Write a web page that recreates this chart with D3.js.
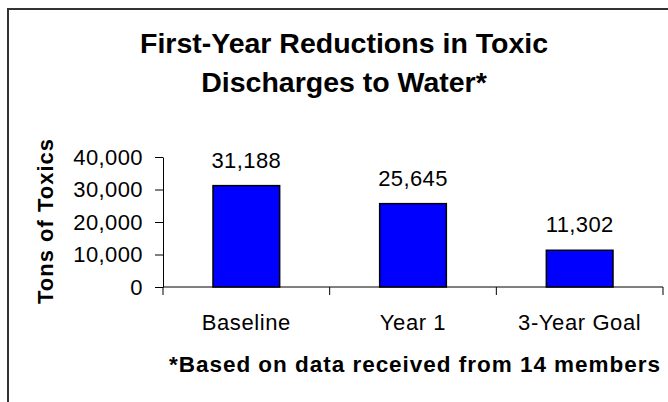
<!DOCTYPE html>
<html><head><meta charset="utf-8">
<script src="https://cdn.jsdelivr.net/npm/d3@7"></script>
<style>
html,body{margin:0;padding:0;background:#fff;}
svg{display:block;font-family:Arial,"Liberation Sans",sans-serif;}
</style></head>
<body>
<svg id="c" width="668" height="402"></svg>
<script>
const categories = ["Baseline", "Year 1", "3-Year Goal"];
const values = [31188, 25645, 11302];
const yTicks = [0, 10000, 20000, 30000, 40000];
const titleLines = ["First-Year Reductions in Toxic", "Discharges to Water*"];
const yTitle = "Tons of Toxics";
const footnote = "*Based on data received from 14 members";

const svg = d3.select("#c");
// frame (left and top edges visible)
svg.append("path").attr("d", "M8,402 L8,9 L668,9")
  .attr("fill", "none").attr("stroke", "#333").attr("stroke-width", 2);

const x0 = 163, x1 = 663, yTop = 157, yBot = 287;
const x = d3.scaleBand().domain(categories).range([x0, x1]).paddingInner(0.6).paddingOuter(0.3);
const y = d3.scaleLinear().domain([0, 40000]).range([yBot, yTop]);

// title
svg.append("g").selectAll("text").data(titleLines).join("text")
  .attr("x", 344).attr("y", (d, i) => 53 + i * 39)
  .attr("text-anchor", "middle").attr("font-size", "28.5px").attr("font-weight", "bold")
  .attr("fill", "#000").text(d => d);

// y axis
const yAxis = d3.axisLeft(y).tickValues(yTicks).tickFormat(d3.format(",")).tickSize(8).tickSizeOuter(0).tickPadding(12);
const gy = svg.append("g").attr("transform", `translate(${x0},0)`).call(yAxis);
gy.select(".domain").attr("stroke", "#000");
gy.selectAll(".tick line").attr("stroke", "#000");
gy.selectAll(".tick text").attr("font-size", "22px").attr("font-family", "Arial,'Liberation Sans',sans-serif")
  .attr("fill", "#000").attr("letter-spacing", "0.4px");

// x axis line and category ticks
svg.append("line").attr("x1", x0).attr("x2", x1).attr("y1", y(0)).attr("y2", y(0)).attr("stroke", "#000");
const bounds = d3.range(categories.length + 1).map(i => x0 + i * x.step());
svg.append("g").selectAll("line").data(bounds).join("line")
  .attr("x1", d => d).attr("x2", d => d).attr("y1", y(0)).attr("y2", y(0) + 8).attr("stroke", "#000");

// bars
svg.append("g").selectAll("rect").data(values).join("rect")
  .attr("x", (d, i) => x(categories[i])).attr("width", x.bandwidth())
  .attr("y", d => y(d)).attr("height", d => y(0) - y(d))
  .attr("fill", "#0000FF").attr("stroke", "#000").attr("stroke-width", 1.5);

// value labels
svg.append("g").selectAll("text").data(values).join("text")
  .attr("x", (d, i) => x(categories[i]) + x.bandwidth() / 2).attr("y", d => y(d) - 18)
  .attr("text-anchor", "middle").attr("font-size", "22px").attr("letter-spacing", "0.4px")
  .attr("fill", "#000").text(d => d3.format(",")(d));

// category labels
svg.append("g").selectAll("text").data(categories).join("text")
  .attr("x", d => x(d) + x.bandwidth() / 2).attr("y", 330)
  .attr("text-anchor", "middle").attr("font-size", "22px").attr("letter-spacing", "0.6px")
  .attr("fill", "#000").text(d => d);

// y title
svg.append("text").attr("transform", "translate(53,221) rotate(-90)")
  .attr("text-anchor", "middle").attr("font-size", "22px").attr("font-weight", "bold")
  .attr("letter-spacing", "1px").attr("fill", "#000").text(yTitle);

// footnote
svg.append("text").attr("x", 169).attr("y", 372)
  .attr("font-size", "22.5px").attr("font-weight", "bold").attr("fill", "#000")
  .attr("textLength", 491).attr("lengthAdjust", "spacing").text(footnote);
</script>
</body></html>
